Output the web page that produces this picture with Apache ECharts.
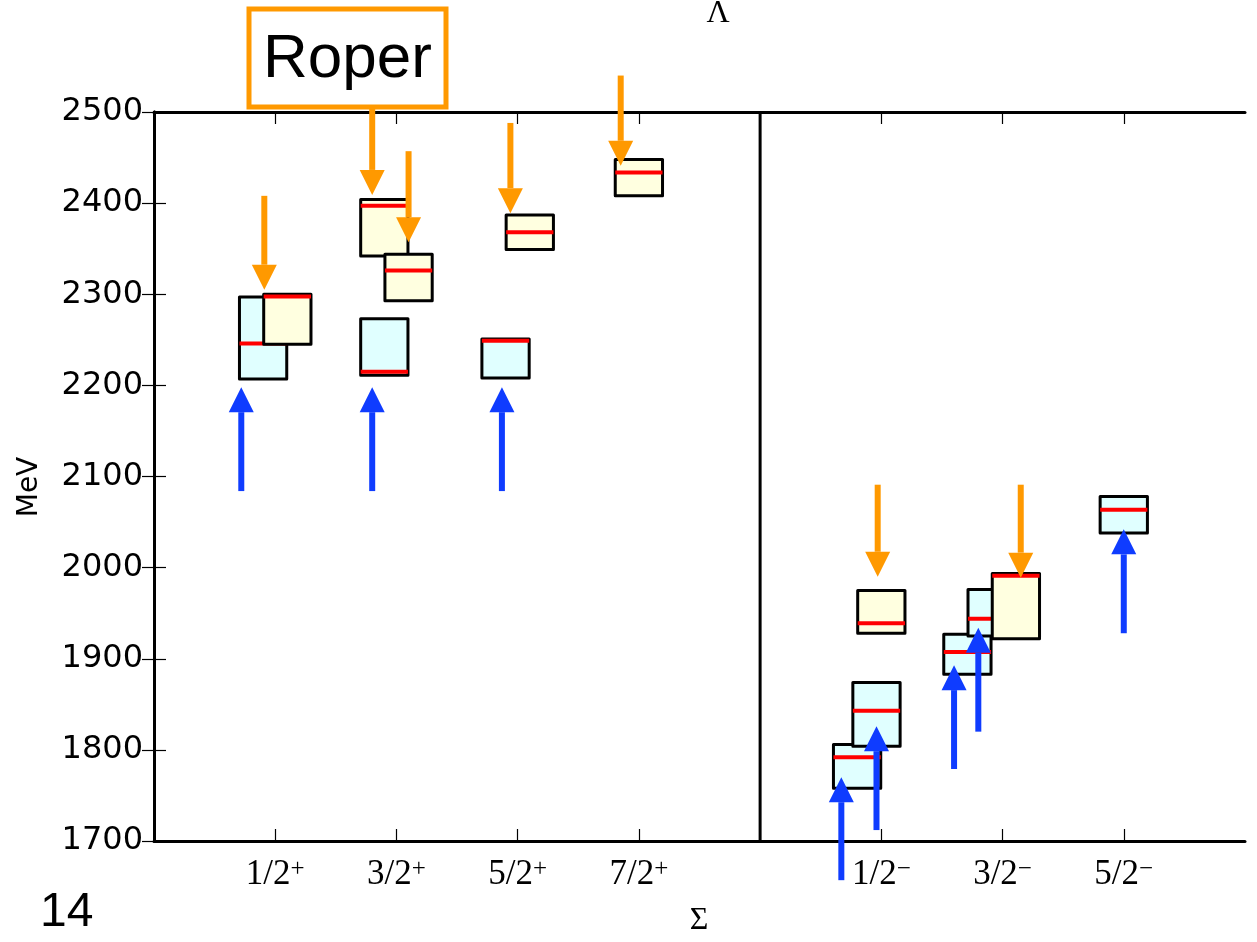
<!DOCTYPE html>
<html>
<head>
<meta charset="utf-8">
<title>Λ / Σ spectrum</title>
<script src="https://cdn.jsdelivr.net/npm/echarts@6/dist/echarts.min.js"></script>
<style>
  html, body { margin: 0; padding: 0; background: #fff; }
  #chart { width: 1257px; height: 942px; }
</style>
</head>
<body>
<div id="chart"></div>
<script>
// Spin-parity columns on the x axis (positive parity left, negative parity right)
const tickPositions = [1, 2, 3, 4, 6, 7, 8];
const spinLabels = ['1/2', '3/2', '5/2', '7/2', '1/2', '3/2', '5/2'];
const parityLabels = ['+', '+', '+', '+', '−', '−', '−'];
const yTicks = [1700, 1800, 1900, 2000, 2100, 2200, 2300, 2400, 2500];

// States: [x position, lower edge (MeV), upper edge (MeV), central value (MeV)]
const cyanStates = [
  [0.90, 2207, 2297, 2246],
  [1.90, 2211, 2273, 2215],
  [2.90, 2208, 2251, 2249],
  [5.80, 1758, 1806, 1792],
  [5.96, 1804, 1874, 1843],
  [6.71, 1883, 1927, 1907.5],
  [6.91, 1925, 1976, 1944],
  [8.00, 2038, 2078, 2063.5]
];
const yellowStates = [
  [1.10, 2245, 2300, 2297.5],
  [1.90, 2342, 2404, 2397],
  [2.10, 2293, 2344, 2326],
  [3.10, 2349, 2387, 2368],
  [4.00, 2408, 2448, 2433.5],
  [6.00, 1928, 1975, 1939],
  [7.11, 1922, 1993.5, 1991]
];

// Arrows: [x position, tail (MeV), tip (MeV)]
const orangeArrows = [
  [0.91, 2408, 2305],
  [1.80, 2506, 2409],
  [2.10, 2457, 2357],
  [2.94, 2488, 2389],
  [3.85, 2540, 2441],
  [5.97, 2091, 1990],
  [7.15, 2091, 1989]
];
const blueArrows = [
  [0.72, 2084, 2198],
  [1.80, 2084, 2198],
  [2.87, 2084, 2198],
  [5.67, 1657, 1770],
  [5.96, 1712, 1826],
  [6.60, 1779, 1893],
  [6.80, 1820, 1934],
  [8.00, 1928, 2042]
];
const dividerLine = [[5, 1700], [5, 2500]];

const BOX_W = 0.39;
const HEAD_LEN = 25;
const HEAD_W = 25;

function boxRenderer(fill) {
  return function (params, api) {
    const x = api.value(0);
    const lo = api.value(1);
    const hi = api.value(2);
    const mid = api.value(3);
    const p1 = api.coord([x - BOX_W / 2, hi]);
    const p2 = api.coord([x + BOX_W / 2, lo]);
    const pm = api.coord([x, mid]);
    return {
      type: 'group',
      children: [
        {
          type: 'rect',
          shape: { x: p1[0], y: p1[1], width: p2[0] - p1[0], height: p2[1] - p1[1] },
          style: { fill: fill, stroke: '#000', lineWidth: 3, lineJoin: 'round' }
        },
        {
          type: 'line',
          shape: { x1: p1[0], y1: pm[1], x2: p2[0], y2: pm[1] },
          style: { stroke: '#ff0000', lineWidth: 4 }
        }
      ]
    };
  };
}

function arrowRenderer(color) {
  return function (params, api) {
    const x = api.value(0);
    const tail = api.coord([x, api.value(1)]);
    const tip = api.coord([x, api.value(2)]);
    const dir = Math.sign(tip[1] - tail[1]);
    const base = tip[1] - dir * HEAD_LEN;
    return {
      type: 'group',
      children: [
        {
          type: 'line',
          shape: { x1: tail[0], y1: tail[1], x2: tail[0], y2: base },
          style: { stroke: color, lineWidth: 6 }
        },
        {
          type: 'polygon',
          shape: { points: [[tip[0], tip[1]], [tip[0] - HEAD_W / 2, base], [tip[0] + HEAD_W / 2, base]] },
          style: { fill: color }
        }
      ]
    };
  };
}

const axisLineStyle = { lineStyle: { color: '#000', width: 3 } };
const tickStyle = { inside: true, length: 12, lineStyle: { color: '#000', width: 1.2 } };
const serif = 'Liberation Serif, DejaVu Serif, serif';

const chart = echarts.init(document.getElementById('chart'), null, { renderer: 'canvas' });

chart.setOption({
  backgroundColor: '#fff',
  animation: false,
  grid: { left: 154, right: 12, top: 112, bottom: 101, containLabel: false, outerBoundsMode: 'none' },
  xAxis: [
    {
      type: 'value', min: 0, max: 9, interval: 1, position: 'bottom',
      axisLine: axisLineStyle,
      axisTick: Object.assign({ customValues: tickPositions }, tickStyle),
      splitLine: { show: false },
      axisLabel: {
        customValues: tickPositions,
        margin: 16,
        formatter: function (v) {
          const i = tickPositions.indexOf(v);
          if (i < 0) return '';
          return '{n|' + spinLabels[i] + '}{s|' + parityLabels[i] + '}';
        },
        rich: {
          n: { fontFamily: serif, fontSize: 35, color: '#000', verticalAlign: 'bottom' },
          s: { fontFamily: serif, fontSize: 25, color: '#000', verticalAlign: 'top' }
        }
      }
    },
    {
      type: 'value', min: 0, max: 9, interval: 1, position: 'top',
      axisLine: axisLineStyle,
      axisTick: Object.assign({ customValues: tickPositions }, tickStyle),
      axisLabel: { show: false },
      splitLine: { show: false }
    }
  ],
  yAxis: [
    {
      type: 'value', min: 1700, max: 2500, interval: 100, position: 'left',
      axisLine: axisLineStyle,
      axisTick: tickStyle,
      splitLine: { show: false },
      axisLabel: {
        customValues: yTicks,
        margin: 11,
        formatter: function (v) { return String(v); },
        fontFamily: 'DejaVu Sans', fontSize: 32, color: '#000'
      }
    },
    {
      type: 'value', min: 1700, max: 2500, interval: 100, position: 'right',
      axisLine: axisLineStyle,
      axisTick: tickStyle,
      axisLabel: { show: false },
      splitLine: { show: false }
    }
  ],
  graphic: [
    {
      type: 'rect', z: 10,
      shape: { x: 249, y: 9, width: 197, height: 98 },
      style: { fill: '#fff', stroke: '#ff9900', lineWidth: 5 }
    },
    {
      type: 'text', z: 11, x: 347.5, y: 60,
      style: { text: 'Roper', fontFamily: 'Liberation Sans, Arial, sans-serif', fontSize: 62, fill: '#000', align: 'center', verticalAlign: 'middle' }
    },
    {
      type: 'text', z: 11, x: 718, y: 14,
      style: { text: 'Λ', fontFamily: serif, fontSize: 32, fill: '#000', align: 'center', verticalAlign: 'middle' }
    },
    {
      type: 'text', z: 11, x: 699, y: 921,
      style: { text: 'Σ', fontFamily: serif, fontSize: 32, fill: '#000', align: 'center', verticalAlign: 'middle' }
    },
    {
      type: 'text', z: 11, x: 30, y: 487, rotation: Math.PI / 2,
      style: { text: 'MeV', fontFamily: 'DejaVu Sans', fontSize: 28, fill: '#000', align: 'center', verticalAlign: 'middle' }
    },
    {
      type: 'text', z: 11, x: 40, y: 913,
      style: { text: '14', fontFamily: 'Liberation Sans, Arial, sans-serif', fontSize: 48, fill: '#000', align: 'left', verticalAlign: 'middle' }
    }
  ],
  series: [
    {
      type: 'line', data: dividerLine, symbol: 'none', silent: true, z: 1,
      lineStyle: { color: '#000', width: 3 }
    },
    {
      type: 'custom', data: cyanStates, renderItem: boxRenderer('#e0ffff'), clip: false, z: 2, silent: true
    },
    {
      type: 'custom', data: yellowStates, renderItem: boxRenderer('#ffffe0'), clip: false, z: 3, silent: true
    },
    {
      type: 'custom', data: orangeArrows, renderItem: arrowRenderer('#ff9900'), clip: false, z: 4, silent: true
    },
    {
      type: 'custom', data: blueArrows, renderItem: arrowRenderer('#0f3cff'), clip: false, z: 4, silent: true
    }
  ]
});
</script>
</body>
</html>
